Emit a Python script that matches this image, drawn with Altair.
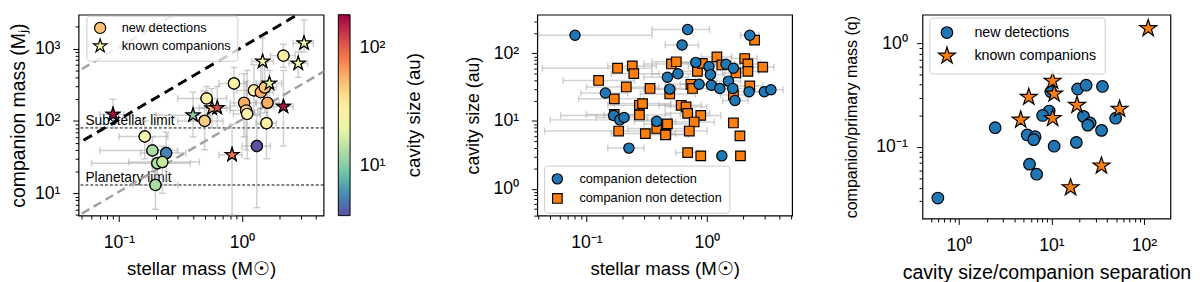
import altair as alt
import pandas as pd

FONT = "Liberation Sans"
BLUE, ORANGE = "#1f77b4", "#ff7f0e"
EB_COLOR = "#a8a8a8"
STAR = ("M0,-1L0.2245,-0.309L0.951,-0.309L0.363,0.118L0.588,0.809L0,0.382"
        "L-0.588,0.809L-0.363,0.118L-0.951,-0.309L-0.2245,-0.309Z")

# ---------------- Panel 1 : companion mass vs stellar mass ----------------
P1_TYPES = ["new detections", "known companions"]
P1_NEW_SM = [2.17, 0.86, 1.25, 1.42, 1.53, 0.515, 1.04, 1.61, 1.08, 1.10, 0.497, 1.58, 1.32, 0.162, 0.187, 0.242, 0.205, 0.225, 0.198]
P1_NEW_CM = [800, 330, 265, 250, 290, 205, 178, 178, 140, 125, 100, 93, 45, 61, 39, 36, 26, 27, 13]
P1_NEW_CAV = [30, 30, 30, 58, 48, 30, 58, 58, 45, 30, 45, 30, 3.9, 25, 12.5, 5.5, 12.5, 15, 12.5]
P1_NEW_SM_LO = [1.7, 0.65, 0.9, 1.1, 1.2, 0.3, 0.8, 1.3, 0.8, 0.85, 0.3, 1.3, 1.0, 0.1, 0.07, 0.15, 0.06, 0.12, 0.13]
P1_NEW_SM_HI = [2.7, 1.1, 1.6, 1.8, 1.9, 0.75, 1.3, 2.0, 1.35, 1.4, 0.7, 1.9, 1.7, 0.25, 0.3, 0.35, 0.38, 0.45, 0.3]
P1_NEW_CM_LO = [550, 160, 120, 90, 130, 120, 60, 100, 40, 30, 40, 30, 6.3, 30, 20, 15, 12, 10, 6]
P1_NEW_CM_HI = [1150, 550, 600, 700, 650, 300, 450, 300, 350, 500, 260, 200, 120, 100, 60, 70, 40, 45, 22]

P1_KNOWN_SM = [3.19, 2.86, 1.47, 1.67, 0.57, 0.63, 2.17, 0.40, 0.83, 0.0895]
P1_KNOWN_CM = [1190, 625, 665, 330, 150, 152, 158, 120, 34, 123]
P1_KNOWN_CAV = [25, 25, 25, 20, 55, 110, 165, 10, 85, 185]
P1_KNOWN_SM_LO = [2.6, 2.4, 1.2, 1.3, 0.4, 0.45, 1.8, 0.2, 0.65, 0.07]
P1_KNOWN_SM_HI = [3.8, 3.4, 1.8, 2.1, 0.75, 0.8, 2.6, 0.55, 1.0, 0.11]
P1_KNOWN_CM_LO = [900, 400, 350, 200, 80, 80, 45, 60, 5.0, 80]
P1_KNOWN_CM_HI = [2500, 900, 1400, 500, 280, 300, 500, 250, 90, 200]

LIMIT_VALUES = [80, 13]
LIMIT_LABELS = ["Substellar limit", "Planetary limit"]
CBAR_TITLE = ["cavity size (au)"]

Q_X = [0.04, 5.0]
Q10_Y = [418.8, 52350]
Q1_Y = [41.88, 5235]
Q01_Y = [4.188, 523.5]

X1_TICKS = [0.05, 0.06, 0.07, 0.08, 0.09, 0.1, 0.2, 0.3, 0.4, 0.5, 0.6, 0.7, 0.8, 0.9, 1, 2, 3, 4]
X1_MAJOR, X1_LABELS = [0.1, 1], ["10⁻¹", "10⁰"]
Y1_TICKS = [5, 6, 7, 8, 9, 10, 20, 30, 40, 50, 60, 70, 80, 90, 100, 200, 300, 400, 500, 600, 700, 800, 900, 1000, 2000]
Y1_MAJOR, Y1_LABELS = [10, 100, 1000], ["10¹", "10²", "10³"]
CBAR_MAJOR, CBAR_LABELS = [10, 100], ["10¹", "10²"]

# ---------------- Panel 2 : cavity size vs stellar mass ----------------
P2_TYPES = ["companion detection", "companion non detection"]
P2_DET_SM = [0.0803, 0.1435, 0.168, 0.189, 0.205, 0.225, 0.383, 0.47, 0.491, 0.692, 0.622, 2.27, 0.809, 1.04, 1.44, 1.66, 0.574, 0.861, 1.09, 1.07, 1.28, 1.51, 1.64, 1.71, 2.24, 3.0, 3.4, 1.33]
P2_DET_CAV = [185, 25.9, 12.1, 10.4, 11.3, 3.98, 9.9, 44.4, 29.6, 225, 133, 185, 73.6, 63.8, 68.9, 60.4, 50.1, 34.9, 33.8, 48.5, 30.3, 38.9, 30.3, 20.1, 27.1, 27.1, 29, 3.06]
P2_DET_LO = [0.04, 0.09, 0.061, 0.05, 0.12, 0.15, 0.25, 0.3, 0.3, 0.35, 0.45, 1.9, 0.55, 0.7, 1.1, 1.3, 0.35, 0.6, 0.8, 0.8, 1.0, 1.2, 1.3, 1.35, 1.8, 2.4, 2.8, 1.33]
P2_DET_HI = [0.35, 0.22, 0.30, 0.35, 0.32, 0.30, 0.55, 0.7, 0.75, 1.05, 0.85, 2.7, 1.2, 1.5, 1.9, 2.1, 0.9, 1.2, 1.5, 1.4, 1.6, 1.9, 2.1, 2.2, 2.8, 3.7, 4.3, 1.33]
P2_NON_SM = [0.181, 0.24, 0.247, 0.126, 0.214, 0.337, 0.17, 0.275, 0.292, 0.275, 0.185, 0.308, 0.383, 0.456, 0.47, 2.49, 1.21, 2.06, 2.91, 2.19, 0.507, 0.557, 0.834, 0.916, 1.33, 1.74, 2.19, 0.736, 0.76, 0.491, 1.66, 2.27, 0.611, 0.671, 0.692, 0.889, 0.784, 0.453, 0.714, 1.66, 1.88, 0.692, 0.889, 1.9, 0.17]
P2_NON_CAV = [60.4, 65.2, 50.1, 39.8, 31.9, 30.3, 21.3, 17.1, 18.1, 12.3, 7.12, 6.52, 7.77, 6.37, 9.06, 157, 88.6, 84, 62.5, 69.7, 69.7, 75.2, 54.1, 71.3, 67.4, 51.3, 54.1, 34.9, 30.3, 25.1, 24.3, 33, 17.1, 16.2, 13, 12.1, 9.68, 6.25, 7.12, 9.36, 6.04, 3.41, 3.06, 3.06, 12.5]
P2_NON_LO = [0.043, 0.15, 0.16, 0.064, 0.1, 0.2, 0.086, 0.15, 0.17, 0.14, 0.045, 0.16, 0.22, 0.3, 0.3, 2.49, 0.9, 1.6, 2.3, 1.7, 0.3, 0.35, 0.55, 0.6, 1.0, 1.35, 1.7, 0.45, 0.5, 0.28, 1.3, 1.8, 0.4, 0.45, 0.45, 0.6, 0.5, 0.3, 0.5, 1.66, 1.88, 0.55, 0.889, 1.9, 0.1]
P2_NON_HI = [0.35, 0.38, 0.4, 0.25, 0.4, 0.55, 0.3, 0.5, 0.5, 0.5, 0.5, 0.55, 0.65, 0.7, 0.75, 2.49, 1.6, 2.6, 3.6, 2.8, 0.8, 0.85, 1.2, 1.3, 1.75, 2.2, 2.7, 1.1, 1.1, 0.8, 2.1, 2.9, 0.9, 1.0, 1.05, 1.3, 1.15, 0.7, 1.0, 1.66, 1.88, 0.85, 0.889, 1.9, 0.3]

X2_TICKS = [0.04, 0.05, 0.06, 0.07, 0.08, 0.09, 0.1, 0.2, 0.3, 0.4, 0.5, 0.6, 0.7, 0.8, 0.9, 1, 2, 3, 4, 5]
X2_MAJOR, X2_LABELS = [0.1, 1], ["10⁻¹", "10⁰"]
Y2_TICKS = [0.4, 0.5, 0.6, 0.7, 0.8, 0.9, 1, 2, 3, 4, 5, 6, 7, 8, 9, 10, 20, 30, 40, 50, 60, 70, 80, 90, 100, 200, 300]
Y2_MAJOR, Y2_LABELS = [1, 10, 100], ["10⁰", "10¹", "10²"]

# ---------------- Panel 3 : mass ratio vs cavity / separation ----------------
P3_TYPES = ["new detections", "known companions"]
P3_NEW_X = [0.594, 2.47, 5.48, 6.67, 6.44, 5.8, 6.93, 10.7, 18.6, 9.46, 8.04, 9.85, 19.2, 23.7, 35.6, 22.2, 26.2, 24.7, 34.8, 49.4]
P3_NEW_Q = [0.0322, 0.154, 0.131, 0.126, 0.118, 0.0684, 0.0547, 0.102, 0.111, 0.223, 0.202, 0.343, 0.364, 0.396, 0.385, 0.198, 0.171, 0.163, 0.145, 0.19]
P3_KNOWN_X = [111, 10.3, 10.7, 5.7, 18.9, 54.5, 4.66, 10.3, 34.7, 16.1]
P3_KNOWN_Q = [1.40, 0.435, 0.327, 0.304, 0.254, 0.233, 0.183, 0.19, 0.066, 0.0407]

X3_TICKS = [0.5, 0.6, 0.7, 0.8, 0.9, 1, 2, 3, 4, 5, 6, 7, 8, 9, 10, 20, 30, 40, 50, 60, 70, 80, 90, 100]
X3_MAJOR, X3_LABELS = [1, 10, 100], ["10⁰", "10¹", "10²"]
Y3_TICKS = [0.03, 0.04, 0.05, 0.06, 0.07, 0.08, 0.09, 0.1, 0.2, 0.3, 0.4, 0.5, 0.6, 0.7, 0.8, 0.9, 1]
Y3_MAJOR, Y3_LABELS = [0.1, 1], ["10⁻¹", "10⁰"]


def label_expr(majors, labels):
    expr = "''"
    for m, l in reversed(list(zip(majors, labels))):
        expr = f"(datum.value == {m} ? '{l}' : {expr})"
    return expr


def log_axis(title, ticks, majors, labels, label_pad, title_pad, title_size):
    test = " || ".join(f"datum.value == {m}" for m in majors)
    return alt.Axis(
        title=title, values=ticks, labelExpr=label_expr(majors, labels),
        labelOverlap=False, labelFlush=False, grid=False, domain=False,
        tickSize={"condition": {"test": test, "value": 6}, "value": 3.5},
        tickColor="black", tickWidth=1, labelColor="black", titleColor="black",
        labelFont=FONT, titleFont=FONT, labelFontSize=18, titleFontSize=title_size,
        titleFontWeight="normal", labelPadding=label_pad, titlePadding=title_pad,
    )


def box_legend(x, y, font_size, label_offset, row_pad, pad):
    return alt.Legend(
        title=None, orient="none", legendX=x, legendY=y, direction="vertical",
        padding=pad, strokeColor="#cccccc", fillColor="rgba(255,255,255,0.8)",
        cornerRadius=3, labelFontSize=font_size, labelFont=FONT, labelColor="black",
        labelOffset=label_offset, rowPadding=row_pad, symbolStrokeWidth=1.2,
        symbolOpacity=1,
    )

H12, H3 = 205, 208

# ---------- panel 1 ----------
df1 = pd.DataFrame({
    "sm": P1_NEW_SM + P1_KNOWN_SM,
    "cm": P1_NEW_CM + P1_KNOWN_CM,
    "cav": P1_NEW_CAV + P1_KNOWN_CAV,
    "sm_lo": P1_NEW_SM_LO + P1_KNOWN_SM_LO,
    "sm_hi": P1_NEW_SM_HI + P1_KNOWN_SM_HI,
    "cm_lo": P1_NEW_CM_LO + P1_KNOWN_CM_LO,
    "cm_hi": P1_NEW_CM_HI + P1_KNOWN_CM_HI,
    "type": [P1_TYPES[0]] * len(P1_NEW_SM) + [P1_TYPES[1]] * len(P1_KNOWN_SM),
})
df_lim = pd.DataFrame({"v": LIMIT_VALUES, "label": LIMIT_LABELS})
df_q = pd.DataFrame({"x": Q_X * 3, "y": Q10_Y + Q1_Y + Q01_Y,
                     "q": ["10", "10", "1", "1", "0.1", "0.1"]})

x1s = alt.Scale(type="log", domain=[0.047, 4.6], nice=False)
y1s = alt.Scale(type="log", domain=[4.9, 2950], nice=False)
X1A = log_axis("stellar mass (M☉)", X1_TICKS, X1_MAJOR, X1_LABELS, 12.5, 9, 19)
Y1A = log_axis("companion mass (Mⱼ)", Y1_TICKS, Y1_MAJOR, Y1_LABELS, 13, 6, 19.8)


def X1(f):
    return alt.X(f, type="quantitative", scale=x1s, axis=X1A)


def Y1(f):
    return alt.Y(f, type="quantitative", scale=y1s, axis=Y1A)


txt1 = alt.Chart(df_lim).mark_text(align="left", baseline="alphabetic", dy=-3, fontSize=14,
                                   font=FONT, color="black").encode(
    x=alt.value(7), y=Y1("v"), text="label:N")
hl1 = alt.Chart(df_lim).mark_rule(color="black", strokeWidth=1, strokeDash=[3, 2]).encode(y=Y1("v"))
grey1 = alt.Chart(df_q[df_q.q != "1"]).mark_line(clip=True, color="#a0a0a0", strokeWidth=2.5,
                                                 strokeDash=[9, 5]).encode(
    x=X1("x"), y=Y1("y"), detail="q:N")
black1 = alt.Chart(df_q[df_q.q == "1"]).mark_line(clip=True, color="black", strokeWidth=3,
                                                  strokeDash=[10, 6]).encode(
    x=X1("x"), y=Y1("y"), detail="q:N")
ebx1 = alt.Chart(df1).mark_errorbar(ticks=True, color=EB_COLOR, opacity=0.55, thickness=1.5, size=7).encode(
    x=X1("sm_lo"), x2="sm_hi:Q", y=Y1("cm"))
eby1 = alt.Chart(df1).mark_errorbar(ticks=True, color=EB_COLOR, opacity=0.55, thickness=1.5, size=7).encode(
    y=Y1("cm_lo"), y2="cm_hi:Q", x=X1("sm"))
cbar_title = alt.Chart(pd.DataFrame({"t": CBAR_TITLE})).mark_text(
    angle=270, align="center", baseline="middle", fontSize=19, font=FONT, color="black").encode(
    x=alt.value(342), y=alt.value(H12 / 2), text="t:N")

L1 = box_legend(8, 1, 13, 14, 0, 6)
SH1 = alt.Scale(domain=P1_TYPES, range=["circle", STAR])
SZ1 = alt.Scale(domain=P1_TYPES, range=[130, 210])
base1 = alt.Chart(df1).mark_point(filled=True, opacity=1, stroke="black", strokeWidth=1.2).encode(
    x=X1("sm"), y=Y1("cm"),
    color=alt.Color("type:N", scale=alt.Scale(domain=P1_TYPES, range=["#fdc374", "#f6f7a6"]), legend=L1),
    shape=alt.Shape("type:N", scale=SH1, legend=L1),
    size=alt.Size("type:N", scale=SZ1, legend=L1),
)
CBAR = alt.Legend(
    title=None, orient="none", legendX=265, legendY=0, direction="vertical",
    type="gradient", gradientLength=H12, gradientThickness=12, gradientStrokeColor="black",
    gradientStrokeWidth=1, values=CBAR_MAJOR, labelExpr=label_expr(CBAR_MAJOR, CBAR_LABELS),
    labelFontSize=18, labelFont=FONT, labelColor="black", labelOffset=10, labelOverlap=False,
)
top1 = alt.Chart(df1).mark_point(filled=True, opacity=1, stroke="black", strokeWidth=1.2).encode(
    x=X1("sm"), y=Y1("cm"),
    fill=alt.Fill("cav:Q", scale=alt.Scale(type="log", domain=[3.85, 190], scheme="spectral", reverse=True),
                  legend=CBAR),
    shape=alt.Shape("type:N", scale=SH1, legend=None),
    size=alt.Size("type:N", scale=SZ1, legend=None),
)
p1 = alt.layer(txt1, hl1, grey1, ebx1, eby1, base1, top1, black1, cbar_title).properties(width=250, height=H12)

# ---------- panel 2 ----------
df2 = pd.DataFrame({
    "sm": P2_NON_SM + P2_DET_SM,
    "cav": P2_NON_CAV + P2_DET_CAV,
    "lo": P2_NON_LO + P2_DET_LO,
    "hi": P2_NON_HI + P2_DET_HI,
    "type": [P2_TYPES[1]] * len(P2_NON_SM) + [P2_TYPES[0]] * len(P2_DET_SM),
})
x2s = alt.Scale(type="log", domain=[0.039, 5.1], nice=False)
y2s = alt.Scale(type="log", domain=[0.4, 373], nice=False)
X2A = log_axis("stellar mass (M☉)", X2_TICKS, X2_MAJOR, X2_LABELS, 12.5, 9, 19)
Y2A = log_axis("cavity size (au)", Y2_TICKS, Y2_MAJOR, Y2_LABELS, 13, 11, 18)
L2 = box_legend(7, 154, 13, 16, 4, 7)
eb2 = alt.Chart(df2).mark_errorbar(ticks=True, color=EB_COLOR, opacity=0.5, thickness=1.5, size=7).encode(
    x=alt.X("lo:Q", scale=x2s, axis=X2A), x2="hi:Q", y=alt.Y("cav:Q", scale=y2s, axis=Y2A))
pts2 = alt.Chart(df2).mark_point(filled=True, opacity=1, stroke="black", strokeWidth=1.2).encode(
    x=alt.X("sm:Q", scale=x2s, axis=X2A), y=alt.Y("cav:Q", scale=y2s, axis=Y2A),
    color=alt.Color("type:N", scale=alt.Scale(domain=P2_TYPES, range=[BLUE, ORANGE]), legend=L2),
    shape=alt.Shape("type:N", scale=alt.Scale(domain=P2_TYPES, range=["circle", "square"]), legend=L2),
    size=alt.Size("type:N", scale=alt.Scale(domain=P2_TYPES, range=[110, 95]), legend=L2),
)
p2 = alt.layer(eb2, pts2).properties(width=260, height=H12)

# ---------- panel 3 ----------
df3 = pd.DataFrame({
    "x": P3_NEW_X + P3_KNOWN_X,
    "q": P3_NEW_Q + P3_KNOWN_Q,
    "type": [P3_TYPES[0]] * len(P3_NEW_X) + [P3_TYPES[1]] * len(P3_KNOWN_X),
})
x3s = alt.Scale(type="log", domain=[0.405, 193], nice=False)
y3s = alt.Scale(type="log", domain=[0.0204, 1.9], nice=False)
X3A = log_axis("cavity size/companion separation", X3_TICKS, X3_MAJOR, X3_LABELS, 12.5, 9, 20)
Y3A = log_axis("companion/primary mass (q)", Y3_TICKS, Y3_MAJOR, Y3_LABELS, 9.5, 17, 16.3)
L3 = box_legend(7, 3, 14.5, 18, 3, 8)
p3 = alt.Chart(df3).mark_point(filled=True, opacity=1, stroke="black", strokeWidth=1.2).encode(
    x=alt.X("x:Q", scale=x3s, axis=X3A), y=alt.Y("q:Q", scale=y3s, axis=Y3A),
    color=alt.Color("type:N", scale=alt.Scale(domain=P3_TYPES, range=[BLUE, ORANGE]), legend=L3),
    shape=alt.Shape("type:N", scale=alt.Scale(domain=P3_TYPES, range=["circle", STAR]), legend=L3),
    size=alt.Size("type:N", scale=alt.Scale(domain=P3_TYPES, range=[140, 330]), legend=L3),
).properties(width=253, height=H3)

RES = dict(color="independent", shape="independent", size="independent", fill="independent",
           x="independent", y="independent")
inner = alt.hconcat(p1, p2, spacing=40).resolve_scale(**RES)
chart = (
    alt.hconcat(inner, p3, spacing=50).resolve_scale(**RES)
    .properties(padding={"left": 0, "top": 0, "right": 0, "bottom": 0})
    .configure(font=FONT)
    .configure_view(stroke="black", strokeWidth=1.2)
)
chart.save("out.html", embed_options={"renderer": "svg", "actions": False})
